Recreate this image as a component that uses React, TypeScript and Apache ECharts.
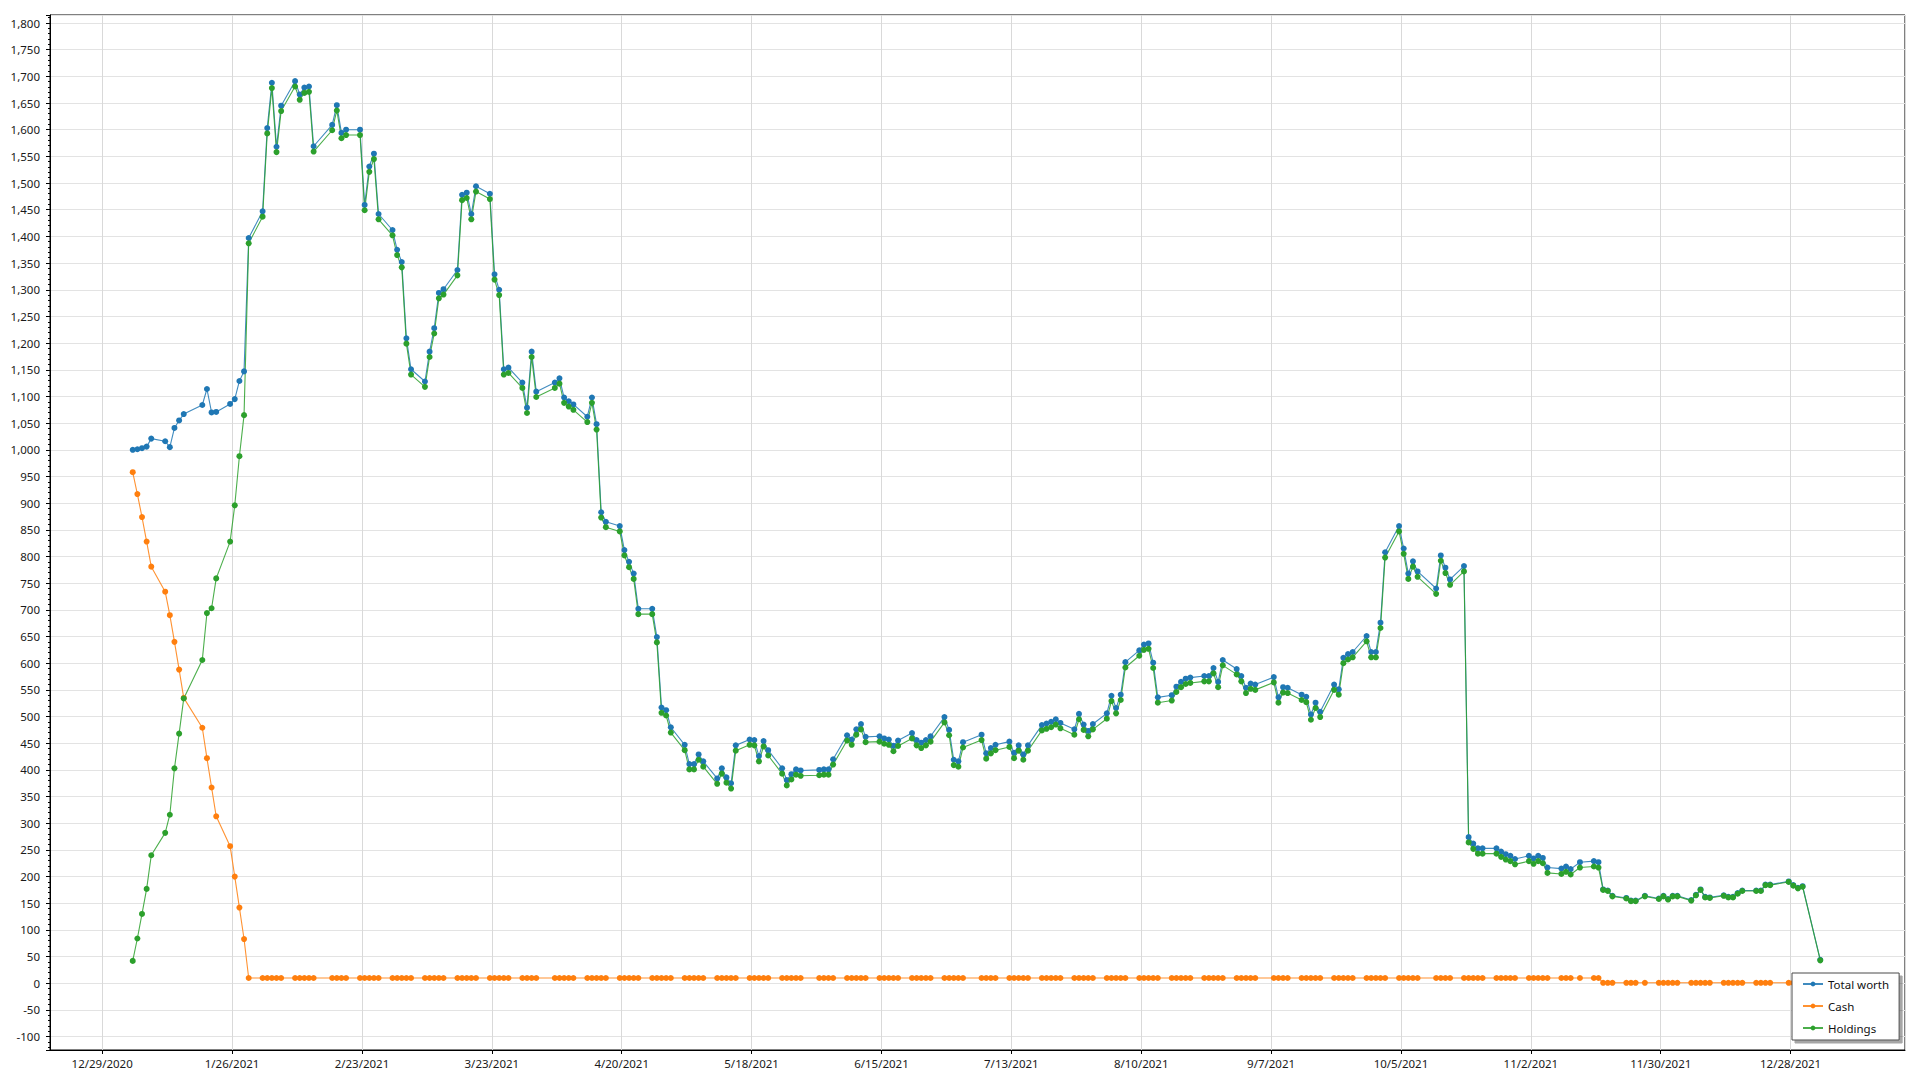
import React, { useEffect, useRef } from "react";
import * as echarts from "echarts";

// ---- data -------------------------------------------------------------
const axisOrigin = "2020-12-29"; // first x-axis tick
const sampleTime = "14:00"; // time of day of the daily samples
const xTickStepDays = 28;
const yTickStep = 50;
const yTickLabels = [-100, 1800]; // first and last labelled y ticks

const dates = [
  // Jan
  "2021-01-04","2021-01-05","2021-01-06","2021-01-07","2021-01-08","2021-01-11","2021-01-12","2021-01-13","2021-01-14","2021-01-15",
  "2021-01-19","2021-01-20","2021-01-21","2021-01-22","2021-01-25","2021-01-26","2021-01-27","2021-01-28","2021-01-29",
  // Feb
  "2021-02-01","2021-02-02","2021-02-03","2021-02-04","2021-02-05","2021-02-08","2021-02-09","2021-02-10","2021-02-11","2021-02-12",
  "2021-02-16","2021-02-17","2021-02-18","2021-02-19","2021-02-22","2021-02-23","2021-02-24","2021-02-25","2021-02-26",
  // Mar
  "2021-03-01","2021-03-02","2021-03-03","2021-03-04","2021-03-05","2021-03-08","2021-03-09","2021-03-10","2021-03-11","2021-03-12",
  "2021-03-15","2021-03-16","2021-03-17","2021-03-18","2021-03-19","2021-03-22","2021-03-23","2021-03-24","2021-03-25","2021-03-26",
  "2021-03-29","2021-03-30","2021-03-31",
  // Apr
  "2021-04-01","2021-04-05","2021-04-06","2021-04-07","2021-04-08","2021-04-09","2021-04-12","2021-04-13","2021-04-14","2021-04-15",
  "2021-04-16","2021-04-19","2021-04-20","2021-04-21","2021-04-22","2021-04-23","2021-04-26","2021-04-27","2021-04-28","2021-04-29",
  "2021-04-30",
  // May
  "2021-05-03","2021-05-04","2021-05-05","2021-05-06","2021-05-07","2021-05-10","2021-05-11","2021-05-12","2021-05-13","2021-05-14",
  "2021-05-17","2021-05-18","2021-05-19","2021-05-20","2021-05-21","2021-05-24","2021-05-25","2021-05-26","2021-05-27","2021-05-28",
  // Jun
  "2021-06-01","2021-06-02","2021-06-03","2021-06-04","2021-06-07","2021-06-08","2021-06-09","2021-06-10","2021-06-11","2021-06-14",
  "2021-06-15","2021-06-16","2021-06-17","2021-06-18","2021-06-21","2021-06-22","2021-06-23","2021-06-24","2021-06-25","2021-06-28",
  "2021-06-29","2021-06-30",
  // Jul
  "2021-07-01","2021-07-02","2021-07-06","2021-07-07","2021-07-08","2021-07-09","2021-07-12","2021-07-13","2021-07-14","2021-07-15",
  "2021-07-16","2021-07-19","2021-07-20","2021-07-21","2021-07-22","2021-07-23","2021-07-26","2021-07-27","2021-07-28","2021-07-29",
  "2021-07-30",
  // Aug
  "2021-08-02","2021-08-03","2021-08-04","2021-08-05","2021-08-06","2021-08-09","2021-08-10","2021-08-11","2021-08-12","2021-08-13",
  "2021-08-16","2021-08-17","2021-08-18","2021-08-19","2021-08-20","2021-08-23","2021-08-24","2021-08-25","2021-08-26","2021-08-27",
  "2021-08-30","2021-08-31",
  // Sep
  "2021-09-01","2021-09-02","2021-09-03","2021-09-07","2021-09-08","2021-09-09","2021-09-10","2021-09-13","2021-09-14","2021-09-15",
  "2021-09-16","2021-09-17","2021-09-20","2021-09-21","2021-09-22","2021-09-23","2021-09-24","2021-09-27","2021-09-28","2021-09-29",
  "2021-09-30",
  // Oct
  "2021-10-01","2021-10-04","2021-10-05","2021-10-06","2021-10-07","2021-10-08","2021-10-12","2021-10-13","2021-10-14","2021-10-15",
  "2021-10-18","2021-10-19","2021-10-20","2021-10-21","2021-10-22","2021-10-25","2021-10-26","2021-10-27","2021-10-28","2021-10-29",
  // Nov
  "2021-11-01","2021-11-02","2021-11-03","2021-11-04","2021-11-05","2021-11-08","2021-11-09","2021-11-10","2021-11-12","2021-11-15",
  "2021-11-16","2021-11-17","2021-11-18","2021-11-19","2021-11-22","2021-11-23","2021-11-24","2021-11-26","2021-11-29","2021-11-30",
  // Dec
  "2021-12-01","2021-12-02","2021-12-03","2021-12-06","2021-12-07","2021-12-08","2021-12-09","2021-12-10","2021-12-13","2021-12-14",
  "2021-12-15","2021-12-16","2021-12-17","2021-12-20","2021-12-21","2021-12-22","2021-12-23","2021-12-27","2021-12-28","2021-12-29",
  "2021-12-30",
];
const finalSample = "2022-01-03T09:30";

const totalWorth = [
  1000, 1001, 1003, 1006, 1021, 1016, 1005, 1041, 1055, 1067, 1084, 1114, 1070, 1071, 1086, 1095, 1129, 1147, 1397,
  1447, 1603, 1688, 1568, 1645, 1691, 1666, 1679, 1681, 1569, 1609, 1646, 1594, 1600, 1600, 1459, 1531, 1555, 1442,
  1412, 1375, 1352, 1209, 1151, 1128, 1184, 1228, 1294, 1301, 1337, 1478, 1482, 1442, 1494, 1480, 1329, 1300, 1151, 1154, 1126, 1079, 1184,
  1109, 1126, 1134, 1098, 1091, 1085, 1062, 1098, 1048, 883, 865, 857, 812, 790, 768, 702, 702, 649, 517, 512, 480,
  447, 411, 411, 429, 416, 384, 403, 386, 375, 446, 457, 456, 426, 454, 437, 403, 381, 392, 401, 399,
  400, 401, 401, 420, 465, 457, 476, 486, 462, 463, 459, 457, 445, 455, 469, 456, 451, 456, 463, 499, 475, 419,
  416, 452, 466, 431, 441, 447, 453, 432, 446, 429, 446, 484, 487, 490, 495, 488, 476, 505, 485, 473, 486,
  506, 539, 516, 541, 602, 624, 635, 637, 601, 536, 540, 556, 565, 571, 573, 576, 576, 591, 565, 606, 589, 576,
  554, 562, 560, 574, 536, 555, 554, 541, 537, 504, 526, 509, 560, 551, 610, 617, 621, 651, 621, 621, 676,
  808, 857, 815, 768, 791, 772, 740, 802, 779, 757, 782, 274, 262, 253, 253, 253, 247, 242, 239, 233,
  239, 234, 239, 235, 217, 215, 219, 214, 227, 229, 227, 176, 174, 164, 160, 155, 155, 164, 159, 164,
  158, 164, 164, 156, 166, 176, 162, 161, 165, 162, 162, 169, 174, 174, 174, 185, 185, 191, 184, 179, 182,
  44,
];

const cash = [
  958, 917, 874, 828, 781, 734, 690, 640, 588, 535, 479, 422, 367, 313, 257, 200, 142, 83, 10,
  10, 10, 10, 10, 10, 10, 10, 10, 10, 10, 10, 10, 10, 10, 10, 10, 10, 10, 10,
  10, 10, 10, 10, 10, 10, 10, 10, 10, 10, 10, 10, 10, 10, 10, 10, 10, 10, 10, 10, 10, 10, 10,
  10, 10, 10, 10, 10, 10, 10, 10, 10, 10, 10, 10, 10, 10, 10, 10, 10, 10, 10, 10, 10,
  10, 10, 10, 10, 10, 10, 10, 10, 10, 10, 10, 10, 10, 10, 10, 10, 10, 10, 10, 10,
  10, 10, 10, 10, 10, 10, 10, 10, 10, 10, 10, 10, 10, 10, 10, 10, 10, 10, 10, 10, 10, 10,
  10, 10, 10, 10, 10, 10, 10, 10, 10, 10, 10, 10, 10, 10, 10, 10, 10, 10, 10, 10, 10,
  10, 10, 10, 10, 10, 10, 10, 10, 10, 10, 10, 10, 10, 10, 10, 10, 10, 10, 10, 10, 10, 10,
  10, 10, 10, 10, 10, 10, 10, 10, 10, 10, 10, 10, 10, 10, 10, 10, 10, 10, 10, 10, 10,
  10, 10, 10, 10, 10, 10, 10, 10, 10, 10, 10, 10, 10, 10, 10, 10, 10, 10, 10, 10,
  10, 10, 10, 10, 10, 10, 10, 10, 10, 10, 10, 1, 1, 1, 1, 1, 1, 1, 1, 1,
  1, 1, 1, 1, 1, 1, 1, 1, 1, 1, 1, 1, 1, 1, 1, 1, 1, 1, 1, 1, 1,
  1,
];

const holdings = [
  42, 84, 130, 177, 240, 282, 316, 403, 468, 534, 606, 694, 703, 759, 828, 896, 988, 1065, 1387,
  1437, 1593, 1678, 1558, 1635, 1681, 1656, 1669, 1671, 1559, 1599, 1636, 1584, 1590, 1590, 1449, 1521, 1545, 1432,
  1402, 1365, 1342, 1199, 1141, 1118, 1174, 1218, 1284, 1291, 1327, 1468, 1472, 1432, 1484, 1470, 1319, 1290, 1141, 1144, 1116, 1069, 1174,
  1099, 1116, 1124, 1088, 1081, 1075, 1052, 1088, 1038, 873, 855, 847, 802, 780, 758, 692, 692, 639, 507, 502, 470,
  437, 401, 401, 419, 406, 374, 393, 376, 365, 436, 447, 446, 416, 444, 427, 393, 371, 382, 391, 389,
  390, 391, 391, 410, 455, 447, 466, 476, 452, 453, 449, 447, 435, 445, 459, 446, 441, 446, 453, 489, 465, 409,
  406, 442, 456, 421, 431, 437, 443, 422, 436, 419, 436, 474, 477, 480, 485, 478, 466, 495, 475, 463, 476,
  496, 529, 506, 531, 592, 614, 625, 627, 591, 526, 530, 546, 555, 561, 563, 566, 566, 581, 555, 596, 579, 566,
  544, 552, 550, 564, 526, 545, 544, 531, 527, 494, 516, 499, 550, 541, 600, 607, 611, 641, 611, 611, 666,
  798, 847, 805, 758, 781, 762, 730, 792, 769, 747, 772, 264, 252, 243, 243, 243, 237, 232, 229, 223,
  229, 224, 229, 225, 207, 205, 209, 204, 217, 219, 217, 175, 173, 163, 159, 154, 154, 163, 158, 163,
  157, 163, 163, 155, 165, 175, 161, 160, 164, 161, 161, 168, 173, 173, 173, 184, 184, 190, 183, 178, 181,
  43,
];

// ---- helpers ----------------------------------------------------------
const DAY_MS = 86400000;
function parseUTC(s: string): number {
  const [d, t] = s.split("T");
  const [y, m, dd] = d.split("-").map(Number);
  const [hh, mm] = (t || "00:00").split(":").map(Number);
  return Date.UTC(y, m - 1, dd, hh, mm);
}
const originMs = parseUTC(axisOrigin);
const toDays = (s: string) => (parseUTC(s) - originMs) / DAY_MS;

const sampleStamps = [...dates.map((d) => d + "T" + sampleTime), finalSample];
const xs = sampleStamps.map(toDays);

const pairs = (vals: number[]) => vals.map((v, i) => [xs[i], v]);

function fmtDate(days: number): string {
  const q = days / xTickStepDays;
  if (Math.abs(q - Math.round(q)) > 1e-6) return "";
  const dt = new Date(originMs + Math.round(days) * DAY_MS);
  return `${dt.getUTCMonth() + 1}/${dt.getUTCDate()}/${dt.getUTCFullYear()}`;
}
function fmtVal(v: number): string {
  const q = v / yTickStep;
  if (Math.abs(q - Math.round(q)) > 1e-6) return "";
  if (v < yTickLabels[0] || v > yTickLabels[1]) return "";
  return Math.round(v).toLocaleString("en-US");
}

const FONT = "Noto Sans";
const BLUE = "#1f77b4";
const ORANGE = "#ff7f0e";
const GREEN = "#2ca02c";

export default function App() {
  const ref = useRef<HTMLDivElement>(null);

  useEffect(() => {
    if (!ref.current) return;
    const chart = echarts.init(ref.current, undefined, { renderer: "svg" });

    const mkSeries = (name: string, vals: number[], color: string) => ({
      name,
      type: "line",
      data: pairs(vals),
      symbol: "circle",
      symbolSize: 6,
      showSymbol: true,
      itemStyle: { color },
      lineStyle: { color, width: 1.1, opacity: 0.85 },
      emphasis: { disabled: true },
    });

    chart.setOption({
      animation: false,
      backgroundColor: "#ffffff",
      textStyle: { fontFamily: FONT },
      grid: {
        left: 50,
        right: 15,
        top: 15,
        bottom: 30,
        show: true,
        borderColor: "#000",
        borderWidth: 1,
        backgroundColor: "transparent",
      },
      xAxis: {
        type: "value",
        min: -11.25,
        max: 388.66,
        minInterval: xTickStepDays,
        maxInterval: xTickStepDays,
        axisLine: { show: true, onZero: false, lineStyle: { color: "#000", width: 1 } },
        axisTick: { show: true, length: 4, lineStyle: { color: "#000" } },
        axisLabel: {
          formatter: fmtDate,
          color: "#1a1a1a",
          fontSize: 11.5,
          fontFamily: FONT,
          margin: 7,
          showMinLabel: false,
          showMaxLabel: false,
        },
        splitLine: { show: true, lineStyle: { color: "#d9d9d9", width: 1 } },
      },
      yAxis: {
        type: "value",
        min: -125,
        max: 1815,
        minInterval: yTickStep,
        maxInterval: yTickStep,
        axisLine: { show: true, onZero: false, lineStyle: { color: "#000", width: 1 } },
        axisTick: { show: true, length: 4, lineStyle: { color: "#000" } },
        minorTick: { show: true, splitNumber: 5, length: 2, lineStyle: { color: "#000" } },
        axisLabel: {
          formatter: fmtVal,
          color: "#1a1a1a",
          fontSize: 11.5,
          fontFamily: FONT,
          margin: 10,
          showMinLabel: false,
          showMaxLabel: false,
        },
        splitLine: { show: true, lineStyle: { color: "#e3e3e3", width: 1 } },
      },
      legend: {
        orient: "vertical",
        left: 1792,
        top: 973,
        data: ["Total worth", "Cash", "Holdings"],
        itemWidth: 20,
        itemHeight: 6,
        itemGap: 10,
        padding: [5, 10, 6, 10],
        backgroundColor: "#ffffff",
        borderColor: "#4a4a4a",
        borderWidth: 1,
        shadowColor: "rgba(0,0,0,0.35)",
        shadowBlur: 0,
        shadowOffsetX: 3,
        shadowOffsetY: 3,
        selectedMode: false,
        textStyle: { fontSize: 11.5, color: "#111", fontFamily: FONT },
      },
      series: [
        mkSeries("Total worth", totalWorth, BLUE),
        mkSeries("Cash", cash, ORANGE),
        mkSeries("Holdings", holdings, GREEN),
      ],
    });

    return () => chart.dispose();
  }, []);

  return (
    <div
      ref={ref}
      style={{ position: "fixed", left: 0, top: 0, width: 1920, height: 1080, background: "#fff" }}
    />
  );
}
